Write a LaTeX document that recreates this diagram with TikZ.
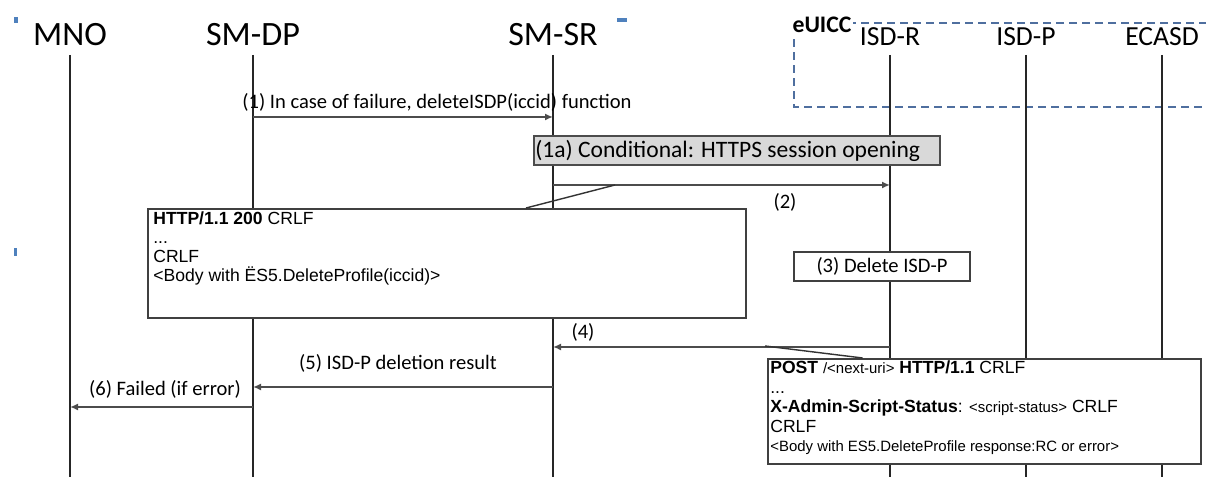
\documentclass[tikz,border=0pt]{standalone}
\usepackage{fontspec}
\setmainfont{Carlito}
\newfontfamily\boxfont{Liberation Sans}
\usetikzlibrary{arrows.meta,calc}
\definecolor{euiccblue}{HTML}{4F6F9F}
\definecolor{markblue}{HTML}{4F81BD}
\definecolor{condgray}{HTML}{D9D9D9}
\tikzset{
  actor/.style={font=\fontsize{19.4}{23}\selectfont, inner sep=0pt},
  subactor/.style={font=\fontsize{15.7}{19}\selectfont, inner sep=0pt},
  life/.style={line width=0.8pt, black!85},
  msg/.style={line width=1pt, black!70, -{Latex[length=0.16cm,width=0.14cm]}},
  lbl/.style={font=\fontsize{11.7}{14}\selectfont, inner sep=0pt},
  frame/.style={draw=black!75, line width=1pt, fill=white, inner sep=0pt},
  boxtext/.style={anchor=north west, align=left, inner sep=0pt},
  callout/.style={line width=0.8pt, black!80}
}

\begin{document}
\begin{tikzpicture}
			%%%%% START %%%%%
			\useasboundingbox (0,0) rectangle (24.12,-9.54);
			
			\fill[markblue] (0.29,-0.34) rectangle (0.35,-0.46);
			\fill[markblue] (12.34,-0.36) rectangle (12.54,-0.44);
			\fill[markblue] (0.29,-4.96) rectangle (0.34,-5.12);
			
			\node[actor] (mno) at (1.40,-0.70) {MNO};
			\node[actor] (dp) at (5.06,-0.70) {SM-DP};
			\node[actor] (sr) at (11.06,-0.70) {SM-SR};
			\node[subactor] (isdr) at (17.80,-0.74) {ISD-R};
			\node[subactor] (isdp) at (20.52,-0.74) {ISD-P};
			\node[subactor] (ecasd) at (23.24,-0.74) {ECASD};
			
			\draw[euiccblue, line width=0.85pt, dash pattern=on 0.16cm off 0.1cm] (24.4,-0.46) -- (15.88,-0.46) -- (15.88,-2.14) -- (24.4,-2.14);
			\node[font=\bfseries\fontsize{13.5}{16}\selectfont, fill=white, inner sep=1pt] (euicc) at (16.44,-0.50) {eUICC};
			
			\foreach \a in {mno,dp,sr,isdr,isdp,ecasd}
				\draw[life] (\a |- 0,-1.10) -- (\a |- 0,-9.54);
			
			\draw[msg] (dp |- 0,-2.34) -- (sr |- 0,-2.34);
			\node[lbl, anchor=west] (l1) at (4.84,-2.04) {(1) In case of failure, deleteISDP(iccid) function};
			
			\node[frame, fill=condgray, draw=black!70, anchor=west, minimum width=8.12cm, minimum height=0.58cm] (cond) at (10.66,-3.01) {};
			\node[anchor=west, inner sep=0pt, font=\fontsize{13.4}{16}\selectfont] (condtxt) at (10.70,-3.01) {(1a) Conditional: HTTPS session opening};
			
			\draw[msg] (sr |- 0,-3.70) -- (isdr |- 0,-3.70);
			\node[lbl] (l2) at (15.70,-4.04) {(2)};
			
			\node[frame, anchor=north west, minimum width=11.96cm, minimum height=2.18cm] (http) at (2.94,-4.16) {};
			\node[boxtext, font=\boxfont\fontsize{10}{10.8}\selectfont] (httptxt) at (3.06,-4.234) {\textbf{HTTP/1.1 200} CRLF\\...\\CRLF\\<Body with ËS5.DeleteProfile(iccid)>};
			\coordinate (c2) at (12.30,-3.70);
			\draw[callout] ($(http.north west)!0.632!(http.north east)$) -- (c2);
			
			\node[frame, lbl, minimum width=3.52cm, minimum height=0.58cm] (del) at (17.64,-5.33) {(3) Delete ISD-P};
			
			\draw[msg] (isdr |- 0,-6.94) -- (sr |- 0,-6.94);
			\node[lbl] (l4) at (11.66,-6.64) {(4)};
			
			\draw[msg] (sr |- 0,-7.74) -- (dp |- 0,-7.74);
			\node[lbl] (l5) at (7.96,-7.26) {(5) ISD-P deletion result};
			
			\draw[msg] (dp |- 0,-8.14) -- (mno |- 0,-8.14);
			\node[lbl] (l6) at (3.30,-7.78) {(6) Failed (if error)};
			
			\node[frame, anchor=north west, minimum width=8.66cm, minimum height=2.10cm] (post) at (15.34,-7.16) {};
			\node[boxtext, font=\boxfont\fontsize{10}{11.1}\selectfont] (posttxt) at (15.40,-7.21) {\textbf{POST} {\fontsize{8.5}{9}\selectfont /<next-uri>} \textbf{HTTP/1.1} CRLF\\...\\\textbf{X-Admin-Script-Status}: {\fontsize{8.5}{9}\selectfont <script-status>} CRLF\\CRLF\\{\fontsize{8.5}{9}\selectfont <Body with ES5.DeleteProfile response:RC or error>}};
			\coordinate (c4) at (15.30,-6.92);
			\draw[callout] ($(post.north west)!0.22!(post.north east)$) -- (c4);
			
			%%%%% END %%%%%
\end{tikzpicture}
\end{document}
